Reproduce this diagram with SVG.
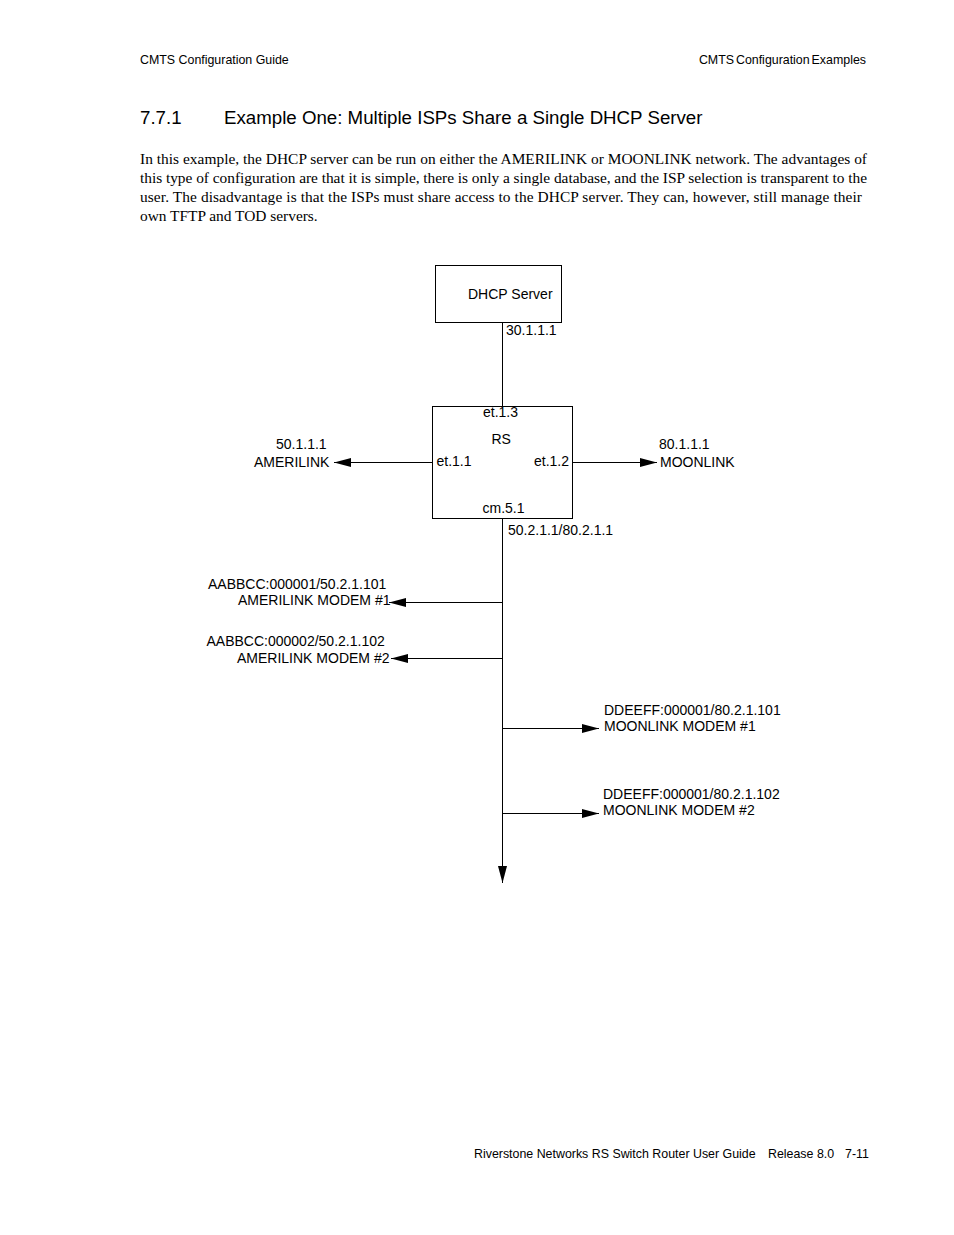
<svg xmlns="http://www.w3.org/2000/svg" width="954" height="1235" viewBox="0 0 954 1235">
<style>
.hdr{font-family:"Liberation Sans",Arial,sans-serif;font-size:12.4px;fill:#000}
.ttl{font-family:"Liberation Sans",Arial,sans-serif;font-size:18.7px;fill:#000}
.body{font-family:"Liberation Serif","Times New Roman",serif;font-size:15.4px;fill:#000}
.lbl{font-family:"Liberation Sans",Arial,sans-serif;font-size:14px;fill:#000}
.box{fill:#fff;stroke:#000;stroke-width:1}
.ln{stroke:#000;stroke-width:1;fill:none}
</style>
<defs>
<marker id="ah" viewBox="0 0 17 9" refX="17" refY="4.5" markerWidth="17" markerHeight="9" markerUnits="userSpaceOnUse" orient="auto">
<path d="M0,0 L17,4.5 L0,9 z" fill="#000"/>
</marker>
</defs>
<rect width="954" height="1235" fill="#fff"/>
<text class="hdr" x="140" y="64">CMTS Configuration Guide</text>
<text class="hdr" x="866" y="64" text-anchor="end" word-spacing="-1.5">CMTS Configuration Examples</text>
<text class="ttl" x="140" y="124">7.7.1</text>
<text class="ttl" x="224" y="124">Example One: Multiple ISPs Share a Single DHCP Server</text>
<text class="body" x="140" y="164" textLength="727" lengthAdjust="spacing">In this example, the DHCP server can be run on either the AMERILINK or MOONLINK network. The advantages of</text>
<text class="body" x="140" y="183" textLength="727" lengthAdjust="spacing">this type of configuration are that it is simple, there is only a single database, and the ISP selection is transparent to the</text>
<text class="body" x="140" y="202" textLength="722" lengthAdjust="spacing">user. The disadvantage is that the ISPs must share access to the DHCP server. They can, however, still manage their</text>
<text class="body" x="140" y="221">own TFTP and TOD servers.</text>
<g id="connectors">
<line class="ln" x1="502.5" y1="322" x2="502.5" y2="406"/>
<line class="ln" x1="432" y1="462.5" x2="334" y2="462.5" marker-end="url(#ah)"/>
<line class="ln" x1="573" y1="462.5" x2="657" y2="462.5" marker-end="url(#ah)"/>
<line class="ln" x1="502.5" y1="518" x2="502.5" y2="883" marker-end="url(#ah)"/>
<line class="ln" x1="502.5" y1="602.5" x2="389" y2="602.5" marker-end="url(#ah)"/>
<line class="ln" x1="502.5" y1="658.5" x2="391" y2="658.5" marker-end="url(#ah)"/>
<line class="ln" x1="502.5" y1="728.5" x2="599" y2="728.5" marker-end="url(#ah)"/>
<line class="ln" x1="502.5" y1="813.5" x2="599" y2="813.5" marker-end="url(#ah)"/>
</g>
<g id="dhcp">
<rect class="box" x="435.5" y="265.5" width="126" height="57"/>
<text class="lbl" x="468" y="299">DHCP Server</text>
<text class="lbl" x="506" y="335">30.1.1.1</text>
</g>
<g id="rs">
<rect class="box" x="432.5" y="406.5" width="140" height="112"/>
<text class="lbl" x="483" y="417">et.1.3</text>
<text class="lbl" x="491.5" y="444">RS</text>
<text class="lbl" x="436.5" y="466">et.1.1</text>
<text class="lbl" x="534" y="466">et.1.2</text>
<text class="lbl" x="482.5" y="513">cm.5.1</text>
<text class="lbl" x="508" y="535">50.2.1.1/80.2.1.1</text>
</g>
<g id="amerilink">
<text class="lbl" x="276" y="449">50.1.1.1</text>
<text class="lbl" x="254" y="467">AMERILINK</text>
</g>
<g id="moonlink">
<text class="lbl" x="659" y="449">80.1.1.1</text>
<text class="lbl" x="660" y="467">MOONLINK</text>
</g>
<g id="amerilink-modem-1">
<text class="lbl" x="208" y="589">AABBCC:000001/50.2.1.101</text>
<text class="lbl" x="238" y="605">AMERILINK MODEM #1</text>
</g>
<g id="amerilink-modem-2">
<text class="lbl" x="206.5" y="646">AABBCC:000002/50.2.1.102</text>
<text class="lbl" x="237" y="663">AMERILINK MODEM #2</text>
</g>
<g id="moonlink-modem-1">
<text class="lbl" x="604" y="715">DDEEFF:000001/80.2.1.101</text>
<text class="lbl" x="604" y="731">MOONLINK MODEM #1</text>
</g>
<g id="moonlink-modem-2">
<text class="lbl" x="603" y="799">DDEEFF:000001/80.2.1.102</text>
<text class="lbl" x="603" y="815">MOONLINK MODEM #2</text>
</g>
<text class="hdr" x="474" y="1158">Riverstone Networks RS Switch Router User Guide</text>
<text class="hdr" x="768" y="1158">Release 8.0</text>
<text class="hdr" x="845" y="1158">7-11</text>
</svg>
